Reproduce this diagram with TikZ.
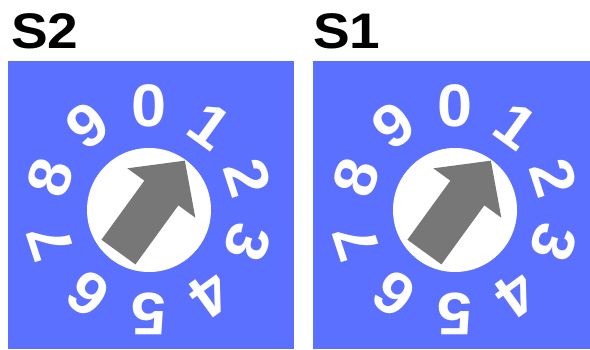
\documentclass[tikz,border=0pt]{standalone}
\usepackage{fontspec}
\setmainfont{Liberation Sans}
\newfontfamily\widesans{Liberation Sans}[FakeStretch=1.1]
\newfontfamily\digitsans{Liberation Sans}[FakeStretch=1.05]
\definecolor{dialblue}{RGB}{92,112,255}
\definecolor{arrowgray}{RGB}{119,119,119}
\begin{document}
\begin{tikzpicture}[x=1pt,y=1pt,
  digit/.style={font=\digitsans\fontsize{60}{60}\selectfont\bfseries, text=white, inner sep=0pt},
  title/.style={font=\widesans\fontsize{50}{50}\selectfont\bfseries, inner sep=0pt, anchor=base west},
  knob/.style={circle, fill=white, minimum size=124pt, inner sep=0pt}]
\useasboundingbox (0,0) rectangle (590,349);
\clip (0,0) rectangle (590,349);
\fill[dialblue] (8,0) rectangle (294,288);
\fill[dialblue] (313,0) rectangle (600,288);
\node[title] (t2) at (11,300) {S2};
\node[title] (t1) at (313,300) {S1};
\foreach \n/\cx in {2/149, 1/455} {
  \node[knob] (knob\n) at (\cx,139) {};
  \fill[arrowgray, shift={(\cx,139)}, rotate=54] (61,0) -- (21,42) -- (21,21) -- (-52,21) -- (-52,-21) -- (21,-21) -- (21,-42) -- cycle;
  \foreach \k in {0,...,9} {
    \node[digit, rotate=-36*\k] (d\n-\k) at ({\cx+104*cos(90-36*\k)}, {139+104*sin(90-36*\k)}) {\k};
  }
}
\end{tikzpicture}
\end{document}
